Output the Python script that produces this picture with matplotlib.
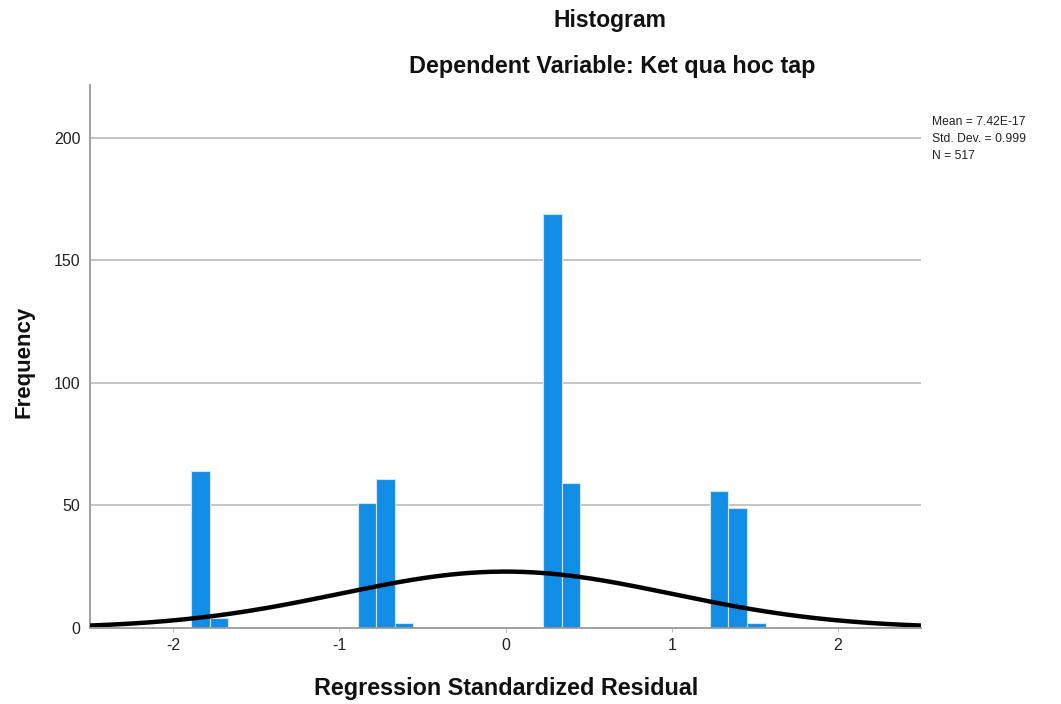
import numpy as np
import matplotlib
matplotlib.use("Agg")
import matplotlib.pyplot as plt

plt.rcParams['font.family'] = ['Liberation Sans', 'DejaVu Sans']

# Histogram of standardized residuals (SPSS-style output)
bin_start = -1.892
bin_width = 0.1115
counts = [64, 4, 0, 0, 0, 0, 0, 0, 0, 51, 61, 2, 0, 0, 0, 0, 0, 0, 0,
          169, 59, 0, 0, 0, 0, 0, 0, 0, 56, 49, 2]
mean_val = 7.42e-17
std_val = 0.999
n_obs = 517

x_ticks = [-2, -1, 0, 1, 2]
y_ticks = [0, 50, 100, 150, 200]

title_main = "Histogram"
title_sub = "Dependent Variable: Ket qua hoc tap"
x_label = "Regression Standardized Residual"
y_label = "Frequency"

W, H = 1061, 704
fig = plt.figure(figsize=(W / 100, H / 100), dpi=100)
ax = fig.add_axes([90 / W, 1 - 628 / H, (921 - 90) / W, (628 - 85) / H])

lefts = bin_start + bin_width * np.arange(len(counts))
ax.bar(lefts, counts, width=bin_width, align='edge', color='#128de6',
       edgecolor='#cfe6fa', linewidth=0.8, zorder=3)

# Fitted normal curve scaled to frequency
xs = np.linspace(-2.5, 2.5, 400)
pdf = np.exp(-0.5 * ((xs - mean_val) / std_val) ** 2) / (std_val * np.sqrt(2 * np.pi))
ax.plot(xs, n_obs * bin_width * pdf, color='black', lw=3.2, zorder=4,
        solid_capstyle='butt')

ax.set_xlim(-2.5, 2.5)
ax.set_ylim(0, 221.6)
ax.set_xticks(x_ticks)
ax.set_xticklabels([str(t) for t in x_ticks])
ax.set_yticks(y_ticks)
ax.set_yticklabels([str(t) for t in y_ticks])
ax.tick_params(axis='x', length=3, color='#bbbbbb', labelsize=11.5,
               labelcolor='#222222', pad=4)
ax.tick_params(axis='y', length=0, labelsize=11.5, labelcolor='#222222', pad=7)

for y in y_ticks[1:]:
    ax.axhline(y, color='#c0c0c0', lw=1.3, zorder=1)

for side in ('top', 'right'):
    ax.spines[side].set_visible(False)
for side in ('left', 'bottom'):
    ax.spines[side].set_color('#9a9a9a')
    ax.spines[side].set_linewidth(1.3)
ax.spines['bottom'].set_zorder(5)

fig.text(610 / W, 1 - 21 / H, title_main, ha='center', va='center',
         fontsize=16.5, fontweight='bold', color='#111111')
fig.text(612 / W, 1 - 66 / H, title_sub, ha='center', va='center',
         fontsize=16.8, fontweight='bold', color='#111111')
fig.text(506 / W, 1 - 689 / H, x_label, ha='center', va='center',
         fontsize=16.8, fontweight='bold', color='#111111')
fig.text(24 / W, 1 - 362 / H, y_label, ha='center', va='center',
         rotation=90, fontsize=16, fontweight='bold', color='#111111')

stats = f"Mean = 7.42E-17\nStd. Dev. = {std_val:.3f}\nN = {n_obs}"
fig.text(932 / W, 1 - 116 / H, stats, ha='left', va='top', fontsize=8.7,
         color='#222222', linespacing=1.55)

fig.savefig("out.png", dpi=100, facecolor='white')
